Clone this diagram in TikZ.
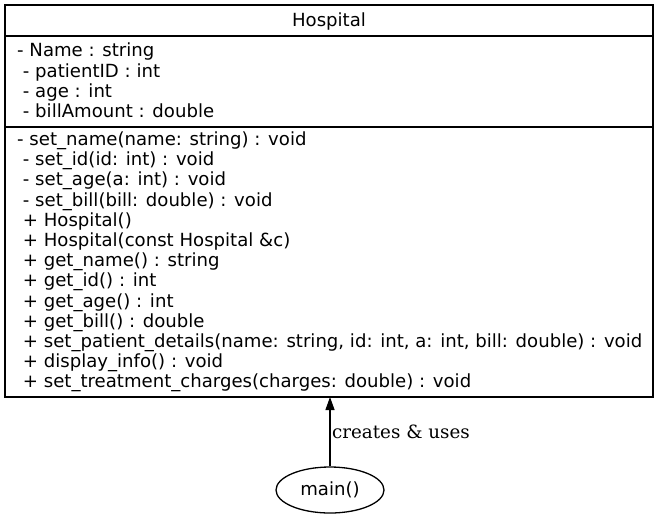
\documentclass[tikz,border=0pt]{standalone}
\usepackage{fontspec}
\setmainfont{DejaVu Serif}
\setsansfont{DejaVu Sans}
\usetikzlibrary{arrows.meta, positioning, shapes.geometric}

\begin{document}
\begin{tikzpicture}[
        x=1pt, y=-1pt,
        part/.style={rectangle, draw=black, line width=1.3pt, outer sep=0pt, inner sep=0pt, minimum width=648pt},
        title/.style={inner sep=0pt, font=\sffamily\fontsize{18.1}{20.2}\selectfont},
        members/.style={anchor=west, inner sep=0pt, align=left, font=\sffamily\fontsize{18.1}{20.2}\selectfont},
        func/.style={ellipse, draw=black, line width=1.3pt, minimum width=108pt, minimum height=46pt, inner sep=0pt, font=\sffamily\fontsize{18.1}{20.2}\selectfont},
        arrow/.style={-{Triangle[length=13pt, width=9pt]}, line width=1.3pt},
        lbl/.style={font=\fontsize{18.3}{20}\selectfont, inner sep=1.5pt}
    ]
        \useasboundingbox (0,0) rectangle (660,520);

        % Class Hospital
        \node[part, minimum height=31pt] (cname) at (329,20.5) {};
        \node[part, minimum height=91pt] (cattr) at (329,81.5) {};
        \node[part, minimum height=270pt] (cops) at (329,262) {};

        \node[title] (tname) at ([yshift=-1pt]cname) {Hospital};
        \node[members] (tattr) at ([xshift=12pt, yshift=1pt]cattr.west) {%
            - Name : string\\
            ~- patientID : int\\
            ~- age : int\\
            ~- billAmount : double};
        \node[members] (tops) at ([xshift=12pt]cops.west) {%
            - set\_name(name: string) : void\\
            ~- set\_id(id: int) : void\\
            ~- set\_age(a: int) : void\\
            ~- set\_bill(bill: double) : void\\
            ~+ Hospital()\\
            ~+ Hospital(const Hospital \&c)\\
            ~+ get\_name() : string\\
            ~+ get\_id() : int\\
            ~+ get\_age() : int\\
            ~+ get\_bill() : double\\
            ~+ set\_patient\_details(name: string, id: int, a: int, bill: double) : void\\
            ~+ display\_info() : void\\
            ~+ set\_treatment\_charges(charges: double) : void};

        % main
        \node[func] (fmain) at (330,490) {main()};

        \draw[arrow] (fmain.north) -- node[lbl, right] {creates \& uses} (fmain.north |- cops.south);

    \end{tikzpicture}
\end{document}
